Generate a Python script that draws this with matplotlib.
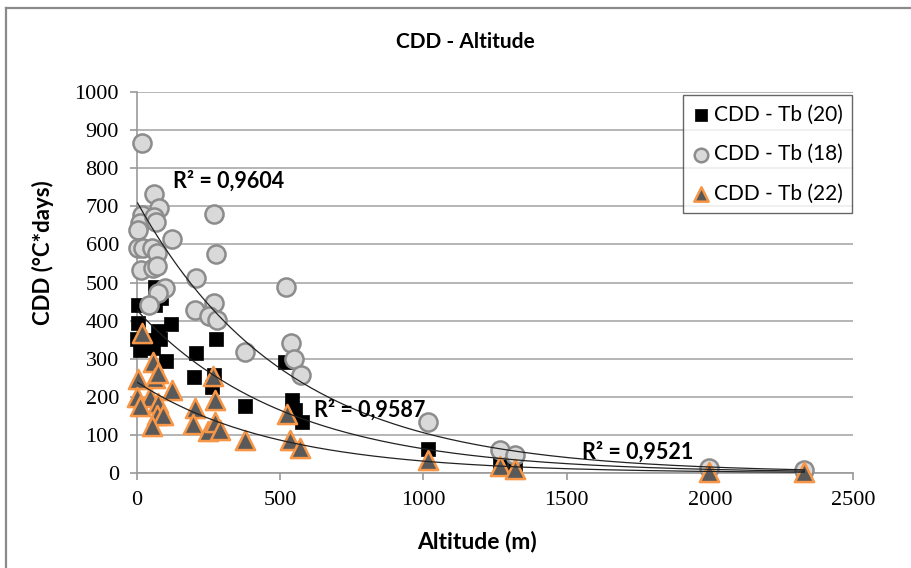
import numpy as np
import matplotlib
matplotlib.use("Agg")
import matplotlib.pyplot as plt
from matplotlib.lines import Line2D

# ---- data ----
alt20 = [62, 85, 3, 62, 3, 120, 73, 0, 38, 79, 9, 56, 102, 276, 206, 200, 270, 262,
         377, 517, 540, 552, 575, 1017, 1268, 1320, 1997, 2330]
cdd20 = [489, 459, 441, 441, 393, 390, 372, 353, 349, 353, 323, 327, 295, 351, 314, 251, 257, 226,
         177, 292, 192, 165, 135, 63, 29, 18, 8, 8]

alt18 = [18, 60, 78, 270, 18, 10, 3, 60, 65, 121, 2, 20, 53, 71, 276, 14, 57, 70, 205, 520,
         98, 74, 42, 202, 270, 252, 278, 377, 538, 549, 571, 1017, 1268, 1320, 1997, 2330]
cdd18 = [867, 732, 695, 679, 677, 655, 638, 673, 660, 614, 590, 590, 590, 578, 574, 533, 537, 543, 513, 489,
         485, 472, 441, 428, 447, 411, 402, 317, 340, 298, 257, 135, 60, 47, 12, 8]

alt22 = [16, 57, 63, 75, 5, 121, 0, 45, 74, 10, 69, 92, 51, 202, 266, 272, 197, 249, 272, 290,
         377, 523, 534, 569, 1017, 1268, 1320, 1997, 2330]
cdd22 = [367, 292, 250, 262, 248, 218, 200, 200, 183, 176, 152, 152, 124, 170, 255, 192, 128, 110, 135, 113,
         87, 155, 87, 65, 34, 18, 10, 3, 3]

series_names = ["CDD - Tb (20)", "CDD - Tb (18)", "CDD - Tb (22)"]
r2_labels = ["R² = 0,9604", "R² = 0,9587", "R² = 0,9521"]
r2_pos = [(318, 766), (813, 165), (1749, 55)]

x_ticks = [0, 500, 1000, 1500, 2000, 2500]
y_ticks = [0, 100, 200, 300, 400, 500, 600, 700, 800, 900, 1000]

# ---- figure ----
W, H = 911, 568
fig = plt.figure(figsize=(W / 100, H / 100), dpi=100)
ax = fig.add_axes([137 / W, 1 - 473 / H, (853 - 137) / W, (473 - 92) / H])

sans = "Lato"
serif = "Liberation Serif"

# chart border (left and top visible)
fig.add_artist(Line2D([6 / W, 6 / W], [0, 1 - 8 / H], transform=fig.transFigure, color="#8a8a8a", lw=1.6))
fig.add_artist(Line2D([6 / W, 1], [1 - 8 / H, 1 - 8 / H], transform=fig.transFigure, color="#8a8a8a", lw=1.6))

ax.set_xlim(0, 2500)
ax.set_ylim(0, 1000)
ax.set_xticks(x_ticks)
ax.set_yticks(y_ticks)
ax.yaxis.grid(True, color="#b0b0b0", lw=1.3)
ax.set_axisbelow(True)
for s in ["top", "right"]:
    ax.spines[s].set_visible(False)
for s in ["left", "bottom"]:
    ax.spines[s].set_color("#9a9a9a")
    ax.spines[s].set_linewidth(1.2)
ax.tick_params(axis="both", direction="out", length=5, color="#9a9a9a", width=1.2,
               labelsize=16, pad=8)
for lab in ax.get_xticklabels() + ax.get_yticklabels():
    lab.set_family(serif)

# scatter
ax.scatter(alt20, cdd20, marker="s", s=115, c="black", edgecolors="black", linewidths=0.5,
           zorder=3, label=series_names[0], clip_on=False)
ax.scatter(alt18, cdd18, marker="o", s=170, c="#d9d9d9", edgecolors="#8c8c8c", linewidths=1.8,
           zorder=4, label=series_names[1], clip_on=False)
ax.scatter(alt22, cdd22, marker="^", s=190, c="#595959", edgecolors="#f79646", linewidths=1.8,
           zorder=5, label=series_names[2], clip_on=False)

# exponential trendlines
for xs, ys in [(alt18, cdd18), (alt20, cdd20), (alt22, cdd22)]:
    xs = np.asarray(xs, float)
    ys = np.asarray(ys, float)
    b, lna = np.polyfit(xs, np.log(ys), 1)
    xx = np.linspace(xs.min(), xs.max(), 300)
    ax.plot(xx, np.exp(lna + b * xx), color="#222222", lw=0.9, zorder=6)

for lab, (px, py) in zip(r2_labels, r2_pos):
    ax.text(px, py, lab, ha="center", va="center", fontsize=15.5, fontweight="bold",
            family=sans, zorder=7)

ax.set_xlabel("Altitude (m)", fontsize=16.5, fontweight="bold", family=sans, va="center")
ax.xaxis.set_label_coords((477 - 137) / 716, (473 - 541) / 381)
ax.set_ylabel("CDD (°C*days)", fontsize=16, fontweight="bold", family=sans, va="center")
ax.yaxis.set_label_coords((43 - 137) / 716, (473 - 253) / 381)
fig.text(465 / W, 1 - 42 / H, "CDD - Altitude", ha="center", va="center", fontsize=15,
         fontweight="bold", family=sans)

leg = ax.legend(loc="upper right", bbox_to_anchor=((852 - 137) / 716, (473 - 95) / 381),
                borderaxespad=0, frameon=True, fancybox=False,
                edgecolor="#404040", prop={"family": sans, "size": 15}, handletextpad=0.15,
                borderpad=0.45, labelspacing=0.95, handlelength=0.9, markerscale=0.75)
leg.get_frame().set_linewidth(1.0)

fig.savefig("out.png", dpi=100)
